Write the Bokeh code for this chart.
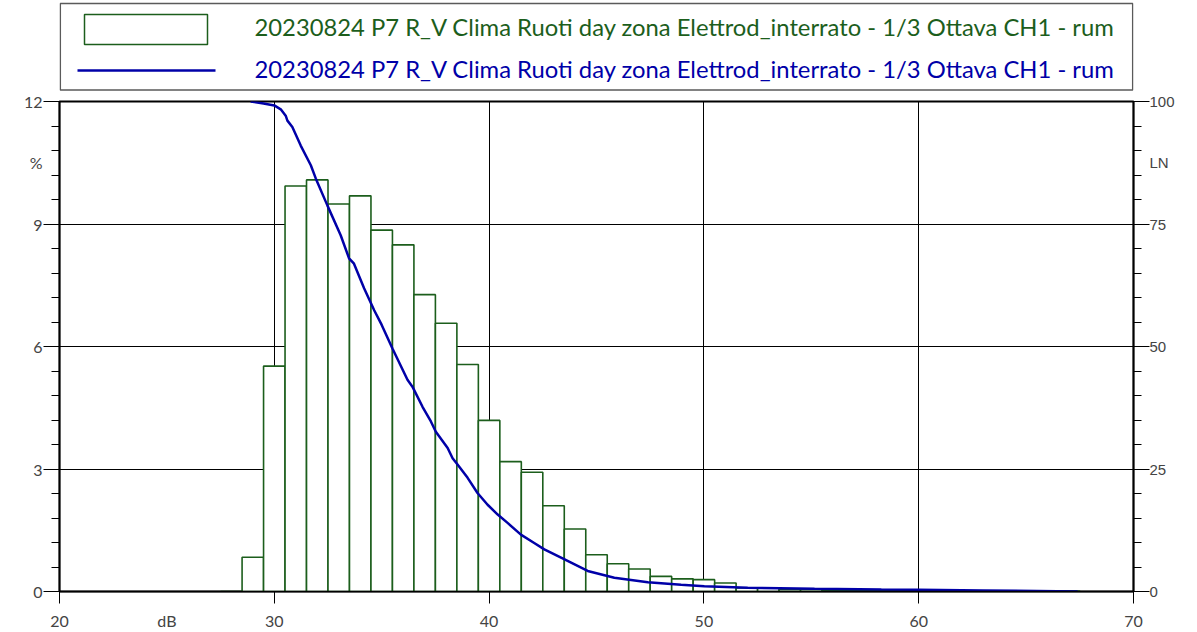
from bokeh.plotting import figure
from bokeh.models import Range1d, LinearAxis, FixedTicker, ColumnDataSource
from bokeh.layouts import column
from bokeh.embed import file_html
from bokeh.resources import INLINE
from bokeh.core.properties import value

# Level distribution: 1 dB classes (class centre, % of time in class)
class_centers = [28, 29, 30, 31, 32, 33, 34, 35, 36, 37, 38, 39, 40, 41, 42, 43,
                 44, 45, 46, 47, 48, 49, 50, 51, 52, 53, 54, 55, 56, 57, 58, 59,
                 60, 61, 62, 63, 64, 65, 66, 67]
class_pct = [0.0, 0.84, 5.52, 9.93, 10.08, 9.49, 9.69, 8.85, 8.49, 7.27, 6.57, 5.56,
             4.19, 3.18, 2.92, 2.10, 1.53, 0.90, 0.68, 0.55, 0.37, 0.31, 0.29, 0.21,
             0.09, 0.08, 0.05, 0.05, 0.04, 0.04, 0.03, 0.03, 0.02, 0.02, 0.02, 0.01,
             0.01, 0.01, 0.01, 0.01]

# Cumulative LN curve: percent of time the level is exceeded
ln_levels = [28.9, 29.5, 30.0, 30.3, 30.53, 30.61, 30.84, 31.23, 31.7, 31.93, 32.47,
             33.09, 33.48, 33.71, 34.18, 34.65, 35.0, 35.5, 36.2, 36.43, 36.9, 37.29,
             37.52, 38.07, 38.3, 38.53, 39.0, 39.46, 39.93, 40.4, 40.86, 41.48, 42.1,
             42.57, 43.35, 44.59, 45.83, 47.39, 48.94, 50.02, 52.04, 55.15, 58.26,
             60.0, 63.0, 65.5, 67.4]
ln_pct = [100.0, 99.6, 99.2, 98.4, 97.1, 96.1, 94.8, 91.0, 87.0, 84.3, 78.8,
          72.7, 68.0, 66.9, 61.9, 57.4, 54.4, 49.6, 43.2, 41.8, 37.7, 34.7,
          32.6, 29.3, 27.2, 25.9, 23.2, 20.1, 17.7, 15.7, 14.0, 11.6, 9.9,
          8.6, 6.9, 4.2, 2.8, 1.9, 1.36, 1.09, 0.75, 0.55, 0.40,
          0.35, 0.22, 0.10, 0.0]

series_name = "20230824 P7 R_V Clima Ruoti day zona Elettrod_interrato - 1/3 Ottava CH1 - rum"

# axis ticks and labels (the unit names sit in the tick-label rows)
x_ticks = [20, 30, 40, 50, 60, 70]
x_label_pos = [20, 25, 30, 40, 50, 60, 70]
x_labels = ["20", "dB", "30", "40", "50", "60", "70"]
pct_ticks = [0, 3, 6, 9, 12]
pct_minor = [0, 0.6, 1.2, 1.8, 2.4, 3, 3.6, 4.2, 4.8, 5.4, 6, 6.6, 7.2, 7.8, 8.4, 9,
             9.6, 10.2, 10.8, 11.4, 12]
pct_label_pos = [0, 3, 6, 9, 10.5, 12]
pct_labels = ["0", "3", "6", "9", "%", "12"]
ln_ticks = [0, 25, 50, 75, 100]
ln_minor = [0, 5, 10, 15, 20, 25, 30, 35, 40, 45, 50, 55, 60, 65, 70, 75, 80, 85, 90, 95, 100]
ln_label_pos = [0, 25, 50, 75, 87.6, 100]
ln_labels = ["0", "25", "50", "75", "LN", "100"]

GREEN = "#1c5e1c"
BLUE = "#0000a8"
CAL = "Lato"
BORDER_L, BORDER_R = 59, 64

# ---- legend strip: x and y in pixels of the strip ----
leg = figure(width=1197, height=91, x_range=Range1d(BORDER_L, 1197 - BORDER_R),
             y_range=Range1d(91, 0), output_backend="svg", toolbar_location=None,
             min_border_left=BORDER_L, min_border_right=BORDER_R,
             min_border_top=0, min_border_bottom=0,
             x_axis_type=None, y_axis_type=None, outline_line_color=None)
leg.grid.visible = False
leg.quad(left=[59.8], right=[1132.2], top=[3], bottom=[89.5], fill_color=None,
         line_color="#5a5a5a", line_width=1.5)
leg.quad(left=[84], right=[207], top=[14], bottom=[44], fill_color=None,
         line_color=GREEN, line_width=1.5)
leg.line([77, 215], [70, 70], line_color=BLUE, line_width=2.5)
leg.text(x=[254, 254], y=[26, 68], text=[series_name, series_name],
         text_color=[GREEN, BLUE], text_font=value(CAL), text_font_size="23.8px",
         text_baseline="middle", text_align="left")

# ---- main chart ----
p = figure(width=1197, height=541, x_range=Range1d(20, 70), y_range=Range1d(0, 12),
           output_backend="svg", toolbar_location=None, y_axis_location=None,
           min_border_left=BORDER_L, min_border_right=BORDER_R,
           min_border_top=10, min_border_bottom=40,
           outline_line_color="black", outline_line_width=2)
p.extra_y_ranges = {"ln": Range1d(0, 100)}

# x axis: long ticks from the minor set, labels from the (hidden) major set
p.xaxis.ticker = FixedTicker(ticks=x_label_pos, minor_ticks=x_ticks)
p.xaxis.major_label_overrides = dict(zip(x_label_pos, x_labels))
p.xaxis.major_tick_line_color = None
p.xaxis.major_tick_in = 0
p.xaxis.major_tick_out = 12
p.xaxis.minor_tick_in = 0
p.xaxis.minor_tick_out = 12
p.xaxis.axis_line_width = 1.5
p.xaxis.major_label_text_font = CAL
p.xaxis.major_label_text_font_size = "16px"
p.xaxis.major_label_standoff = 7


def tick_axis(ticks, minor, range_name="default"):
    # inner axis: tick marks only
    return LinearAxis(y_range_name=range_name,
                      ticker=FixedTicker(ticks=ticks, minor_ticks=minor),
                      major_label_overrides={t: "" for t in ticks},
                      major_tick_in=0, major_tick_out=16, minor_tick_in=0, minor_tick_out=8,
                      axis_line_width=1.5, major_label_standoff=0)


def label_axis(pos, labels, font, size, standoff, range_name="default"):
    # outer axis: tick labels only
    return LinearAxis(y_range_name=range_name,
                      ticker=FixedTicker(ticks=pos, minor_ticks=[]),
                      major_label_overrides=dict(zip(pos, labels)),
                      axis_line_color=None, major_tick_line_color=None,
                      minor_tick_line_color=None, major_tick_in=0, major_tick_out=0,
                      minor_tick_in=0, minor_tick_out=0,
                      major_label_text_font=font, major_label_text_font_size=size,
                      major_label_standoff=standoff)


p.add_layout(tick_axis(pct_ticks, pct_minor), "left")
p.add_layout(label_axis(pct_label_pos, pct_labels, CAL, "16px", 1), "left")
p.add_layout(tick_axis(ln_ticks, ln_minor, "ln"), "right")
p.add_layout(label_axis(ln_label_pos, ln_labels, "Liberation Sans", "15px", 0, "ln"), "right")

p.xgrid.ticker = FixedTicker(ticks=x_ticks)
p.ygrid.ticker = FixedTicker(ticks=pct_ticks)
p.grid.grid_line_color = "black"
p.grid.grid_line_width = 1

src = ColumnDataSource(dict(
    left=[c - 0.5 for c in class_centers],
    right=[c + 0.5 for c in class_centers],
    top=class_pct,
))
p.quad(left="left", right="right", bottom=0, top="top", source=src,
       fill_color="white", line_color=GREEN, line_width=1.6)

p.line(ln_levels, ln_pct, y_range_name="ln", line_color=BLUE, line_width=2.5)

layout = column(leg, p)
open("out.html", "w").write(file_html(layout, INLINE))
